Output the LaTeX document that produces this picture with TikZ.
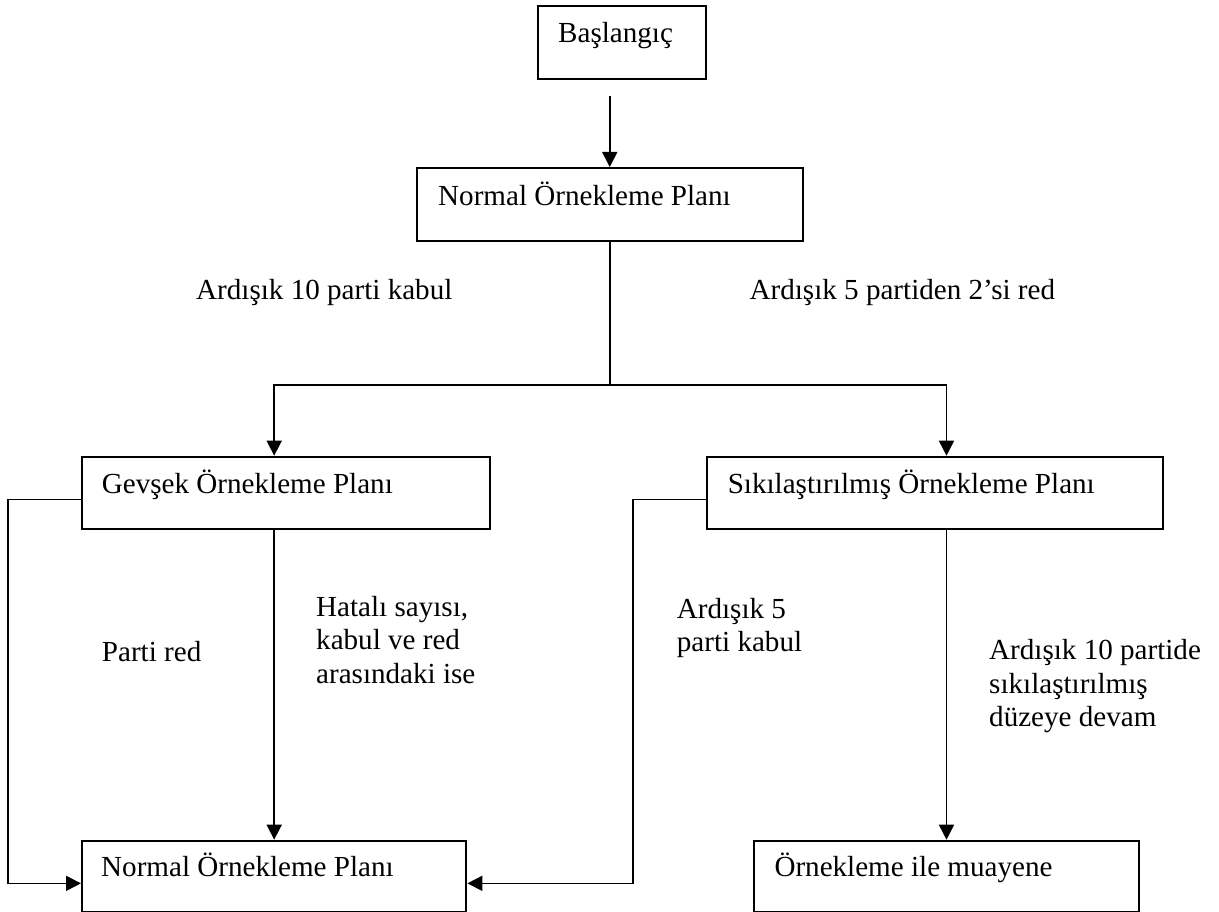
\documentclass[tikz,border=0pt]{standalone}
\usepackage{fontspec}
\setmainfont{Liberation Serif}
\usetikzlibrary{arrows.meta,calc}
\newcommand{\diagfont}{\fontsize{29.1pt}{33.7pt}\selectfont}
\begin{document}
\begin{tikzpicture}[x=1pt,y=-1pt,
  box/.style={draw, line width=2pt, rectangle, inner sep=0pt, anchor=north west},
  txt/.style={anchor=base west, inner sep=0pt, font=\diagfont, align=left},
  conn/.style={line width=1.7pt},
  arr/.style={conn, -{Triangle[length=15pt,width=15pt]}}]
\useasboundingbox (0,0) rectangle (1219,912);
\fill[white] (0,0) rectangle (1219,912);
% boxes
\node[box, minimum width=168pt, minimum height=73pt] (b0) at (537,5) {};
\node[box, minimum width=385.5pt, minimum height=73pt] (b1) at (416,167) {};
\node[box, minimum width=407.7pt, minimum height=72.3pt] (b2) at (81,455.7) {};
\node[box, minimum width=455.7pt, minimum height=72.3pt] (b3) at (705.8,455.7) {};
\node[box, minimum width=384.4pt, minimum height=71.3pt] (b4) at (81,839.7) {};
\node[box, minimum width=384.4pt, minimum height=71.3pt] (b5) at (753.3,839.7) {};
% box texts
\node[txt] (t0) at (558,43) {Başlangıç};
\node[txt] (t1) at (438,206) {Normal Örnekleme Planı};
\node[txt] (t2) at (101.7,493) {Gevşek Örnekleme Planı};
\node[txt] (t3) at (727.6,493) {Sıkılaştırılmış Örnekleme Planı};
\node[txt] (t4) at (101,876.7) {Normal Örnekleme Planı};
\node[txt] (t5) at (774.3,876.7) {Örnekleme ile muayene};
% labels (multi-line: anchor at last baseline)
\node[txt] (l1) at (196,300) {Ardışık 10 parti kabul};
\node[txt] (l2) at (749.4,300) {Ardışık 5 partiden 2’si red};
\node[txt] (l3) at (101.7,661.7) {Parti red};
\node[txt] (l4) at (316,683.4) {Hatalı sayısı,\\kabul ve red\\arasındaki ise};
\node[txt] (l5) at (676.7,651.7) {Ardışık 5\\parti kabul};
\node[txt] (l6) at (989,726.7) {Ardışık 10 partide\\sıkılaştırılmış\\düzeye devam};
% connectors
\draw[arr] ([yshift=71pt]b1.north) -- (b1.north);
\coordinate (j) at ($(b1.south)+(0,143.3)$);
\draw[conn] (b1.south) -- (j);
\draw[arr] (j) -| (b4.north |- b2.north);
\draw[arr] (j) -| (b5.north |- b3.north);
\draw[arr] (b2.south -| b4.north) -- (b4.north);
\draw[arr] (b3.south -| b5.north) -- (b5.north);
\draw[arr] ([yshift=-6.5pt]b2.west) -- ++(-73.3,0) |- ([yshift=-7pt]b4.west);
\draw[arr] ([yshift=-6.5pt]b3.west) -- ++(-73.1,0) |- ([yshift=-7pt]b4.east);
\end{tikzpicture}
\end{document}
